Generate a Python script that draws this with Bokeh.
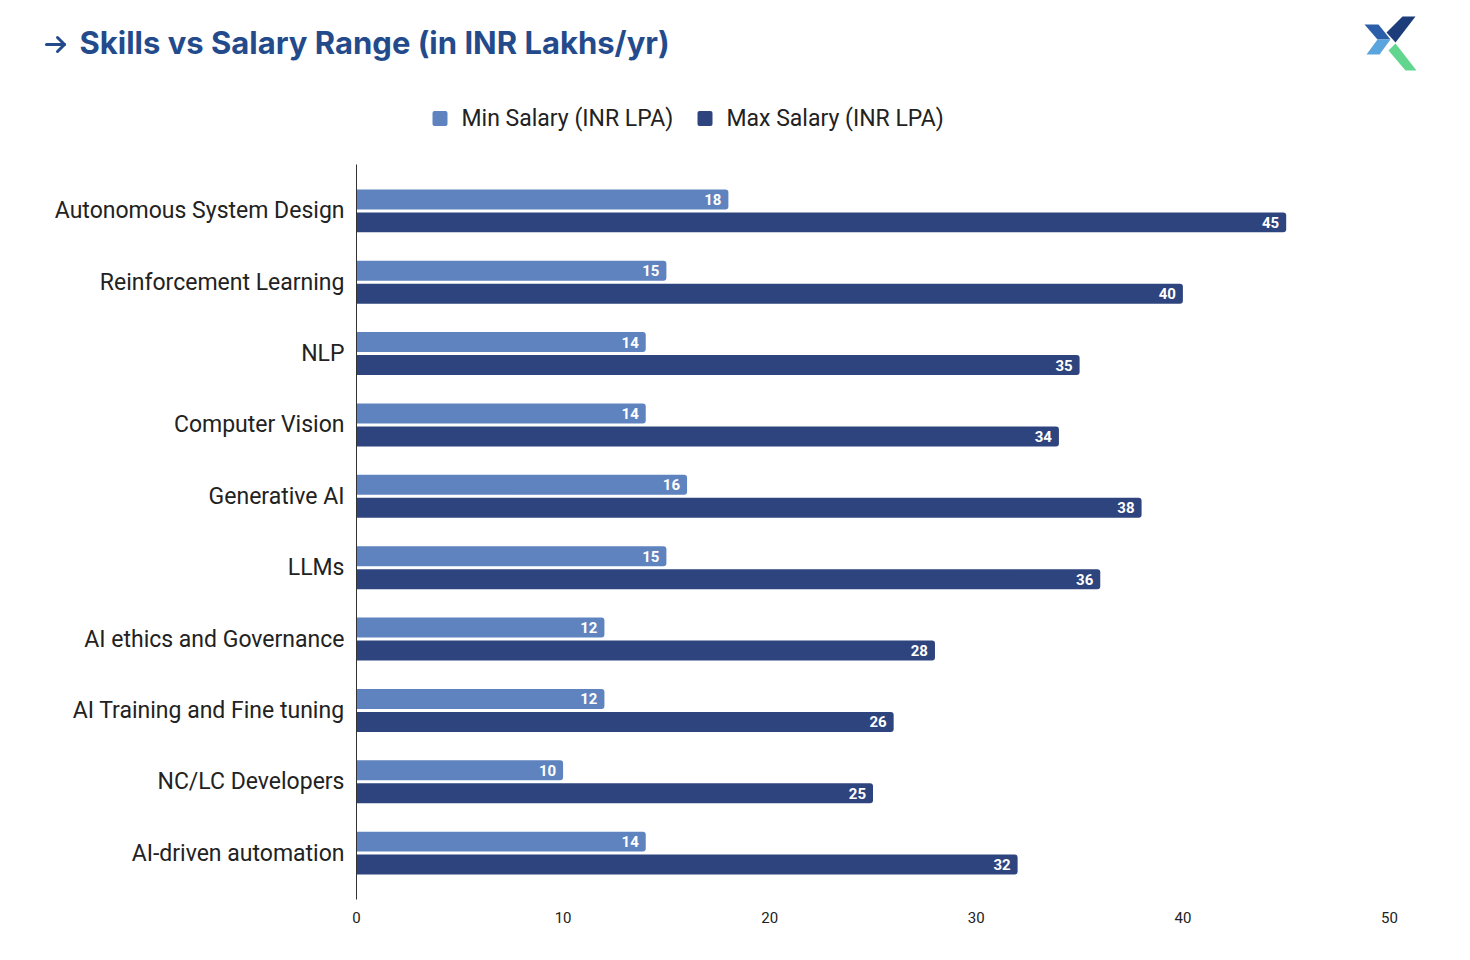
from bokeh.plotting import figure
from bokeh.models import ColumnDataSource, FactorRange, Range1d, FixedTicker
from bokeh.transform import dodge
from bokeh.core.properties import value
from bokeh.embed import file_html
from bokeh.resources import INLINE

skills = ["Autonomous System Design", "Reinforcement Learning", "NLP", "Computer Vision",
          "Generative AI", "LLMs", "AI ethics and Governance", "AI Training and Fine tuning",
          "NC/LC Developers", "AI-driven automation"]
min_salary = [18, 15, 14, 14, 16, 15, 12, 12, 10, 14]
max_salary = [45, 40, 35, 34, 38, 36, 28, 26, 25, 32]
x_ticks = [0, 10, 20, 30, 40, 50]
series_names = ["Min Salary (INR LPA)", "Max Salary (INR LPA)"]
title_text = "Skills vs Salary Range (in INR Lakhs/yr)"

MIN_COLOR = "#5F83BE"
MAX_COLOR = "#2E447E"
TITLE_COLOR = "#234B8C"
FONT = "Roboto"

W = 1470
HH = 164          # header height
HM = 960 - HH     # main figure height
L, R, B = 356, 81, 61

# ---------------- header (title, legend, logo) ----------------
h = figure(width=W, height=HH, output_backend="svg", toolbar_location=None,
           x_range=Range1d(0, W), y_range=Range1d(HH, 0),
           x_axis_type=None, y_axis_type=None,
           min_border=0, min_border_left=0, min_border_right=0,
           min_border_top=0, min_border_bottom=0)
h.outline_line_color = None
h.grid.visible = False

# arrow icon
h.multi_line(xs=[[46, 64], [57, 64, 57]], ys=[[44, 44], [37, 44, 51]],
             line_color=TITLE_COLOR, line_width=3, line_cap="round", line_join="round")
h.text(x=[79], y=[42], text=[title_text], text_font=value("Inter"),
       text_font_size="31px", text_font_style="bold", text_color=TITLE_COLOR,
       text_baseline="middle")

# logo
h.patches(xs=[[1402, 1415, 1395, 1386], [1364, 1378, 1390, 1377], [1377, 1390, 1379, 1366],
              [1395, 1416, 1405, 1388]],
          ys=[[16, 16, 42, 32], [24, 24, 39, 39], [39, 39, 54, 54], [43, 70, 70, 50]],
          fill_color=["#1C3D7A", "#2B5EA8", "#5AA5DE", "#62D68F"], line_color=None)

# legend
h.rect(x=[439.5, 704.5], y=[118, 118], width=15, height=15,
       fill_color=[MIN_COLOR, MAX_COLOR], line_color=None, border_radius=2)
h.text(x=[461, 726], y=[118, 118], text=series_names, text_font=value(FONT),
       text_font_size="23px", text_color="#222222", text_baseline="middle")

# ---------------- main chart ----------------
src = ColumnDataSource(dict(
    skill=skills, mn=min_salary, mx=max_salary,
    mn_lbl=[str(v) for v in min_salary], mx_lbl=[str(v) for v in max_salary]))

p = figure(width=W, height=HM, output_backend="svg", toolbar_location=None,
           y_range=FactorRange(factors=list(reversed(skills)), range_padding=0.15,
                               range_padding_units="absolute"),
           x_range=Range1d(0, 50),
           min_border_left=L, min_border_right=R, min_border_top=0, min_border_bottom=B)
p.outline_line_color = None
p.xgrid.visible = False
p.ygrid.visible = False

OFF = 0.161
BH = 0.28
p.hbar(y=dodge("skill", OFF, range=p.y_range), left=0, right="mn", height=BH,
       source=src, fill_color=MIN_COLOR, line_color=None, border_radius=(0, 3, 3, 0))
p.hbar(y=dodge("skill", -OFF, range=p.y_range), left=0, right="mx", height=BH,
       source=src, fill_color=MAX_COLOR, line_color=None, border_radius=(0, 3, 3, 0))

for col, off in (("mn", OFF), ("mx", -OFF)):
    p.text(x=col, y=dodge("skill", off, range=p.y_range), text=col + "_lbl", source=src,
           text_align="right", text_baseline="middle", x_offset=-7, y_offset=0,
           text_color="white", text_font=value(FONT), text_font_style="bold",
           text_font_size="15px")

p.yaxis.axis_line_color = "#333333"
p.yaxis.axis_line_width = 1
p.yaxis.major_tick_line_color = None
p.yaxis.minor_tick_line_color = None
p.yaxis.major_label_standoff = 6
p.yaxis.major_label_text_font = FONT
p.yaxis.major_label_text_font_size = "23px"
p.yaxis.major_label_text_color = "#222222"

p.xaxis.ticker = FixedTicker(ticks=x_ticks)
p.xaxis.axis_line_color = None
p.xaxis.major_tick_line_color = None
p.xaxis.minor_tick_line_color = None
p.xaxis.major_label_standoff = 6
p.xaxis.major_label_text_font = FONT
p.xaxis.major_label_text_font_size = "15px"
p.xaxis.major_label_text_color = "#222222"

html = file_html([h, p], INLINE)
html = html.replace("<head>", "<head><style>body{margin:0;} body > div{display:block;line-height:0;}</style>", 1)
open("out.html", "w").write(html)
